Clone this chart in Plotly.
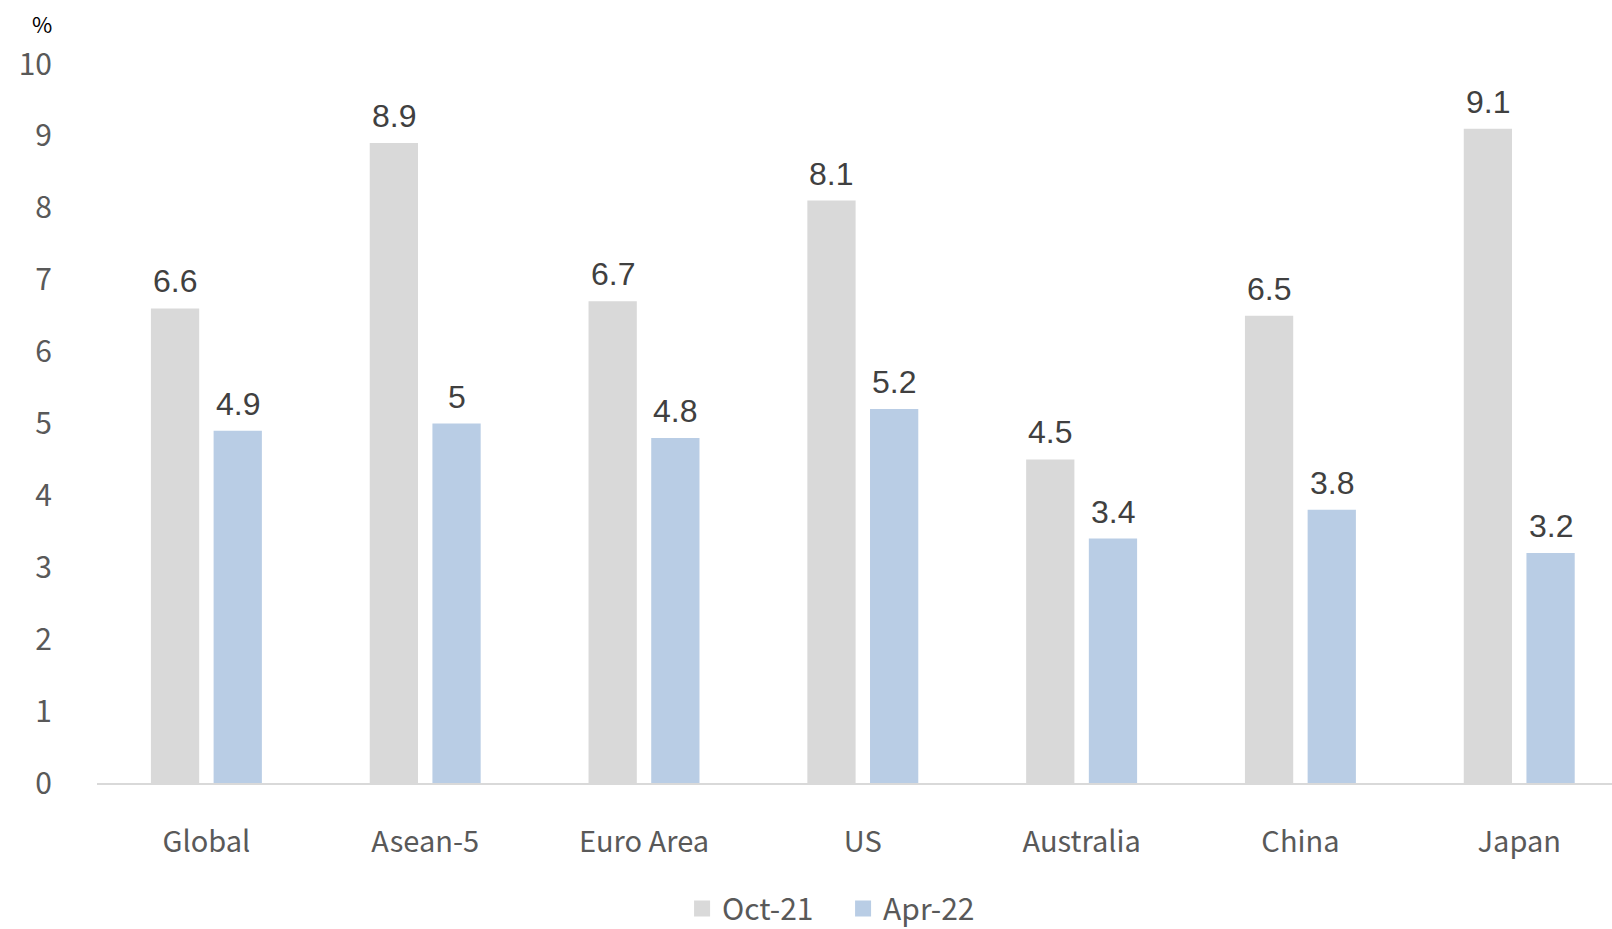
import plotly.graph_objects as go

categories = ["Global", "Asean-5", "Euro Area", "US", "Australia", "China", "Japan"]
oct21 = [6.6, 8.9, 6.7, 8.1, 4.5, 6.5, 9.1]
apr22 = [4.9, 5.0, 4.8, 5.2, 3.4, 3.8, 3.2]
series_names = ["Oct-21", "Apr-22"]
y_ticks = list(range(0, 11))

GRAY = "#D9D9D9"
BLUE = "#B9CDE5"
TICK_FONT = "Noto Sans CJK KR"

fig = go.Figure()
for name, vals, col in ((series_names[0], oct21, GRAY), (series_names[1], apr22, BLUE)):
    fig.add_trace(go.Bar(name=name, x=categories, y=vals, showlegend=False,
                         legendgroup=name, marker=dict(color=col, line=dict(width=0))))
# legend proxies with larger square swatches
for name, col in ((series_names[0], GRAY), (series_names[1], BLUE)):
    fig.add_trace(go.Scatter(name=name, x=[None], y=[None], mode="markers", legendgroup=name,
                             marker=dict(symbol="square", size=23, color=col)))

annotations = []
for vals, shift in ((oct21, -31.35), (apr22, 31.35)):
    for c, v in zip(categories, vals):
        annotations.append(dict(
            x=c, y=v, xref="x", yref="y", text=f"{v:g}", showarrow=False,
            xanchor="center", yanchor="bottom", xshift=shift, yshift=7,
            font=dict(family="Liberation Sans, Arial", size=32, color="#404040"),
        ))
annotations.append(dict(
    x=-0.036, y=1.057, xref="paper", yref="paper", text="%", showarrow=False,
    xanchor="center", yanchor="middle",
    font=dict(family=TICK_FONT, size=22, color="#000000"),
))

fig.update_layout(
    width=1612, height=929,
    margin=dict(l=97, r=0, t=64, b=146, autoexpand=False),
    paper_bgcolor="white", plot_bgcolor="white",
    barmode="group", bargap=0.427, bargroupgap=0.23,
    showlegend=True,
    legend=dict(orientation="h", xref="container", yref="container",
                x=0.523, xanchor="center", y=0.022, yanchor="middle",
                font=dict(family=TICK_FONT, size=30, color="#595959"),
                itemsizing="trace", itemwidth=30, entrywidth=116, tracegroupgap=0),
    annotations=annotations,
    xaxis=dict(showgrid=False, showline=True, linecolor=GRAY, linewidth=2,
               range=[-0.5, 6.424],
               ticks="", ticklabelstandoff=32, automargin=False,
               tickfont=dict(family=TICK_FONT, size=29, color="#595959")),
    yaxis=dict(range=[0, 10], tickvals=y_ticks, showgrid=False, zeroline=False,
               showline=False, ticks="", ticklabelstandoff=44, automargin=False,
               tickfont=dict(family=TICK_FONT, size=30, color="#595959")),
)

fig.write_html("out.html")
